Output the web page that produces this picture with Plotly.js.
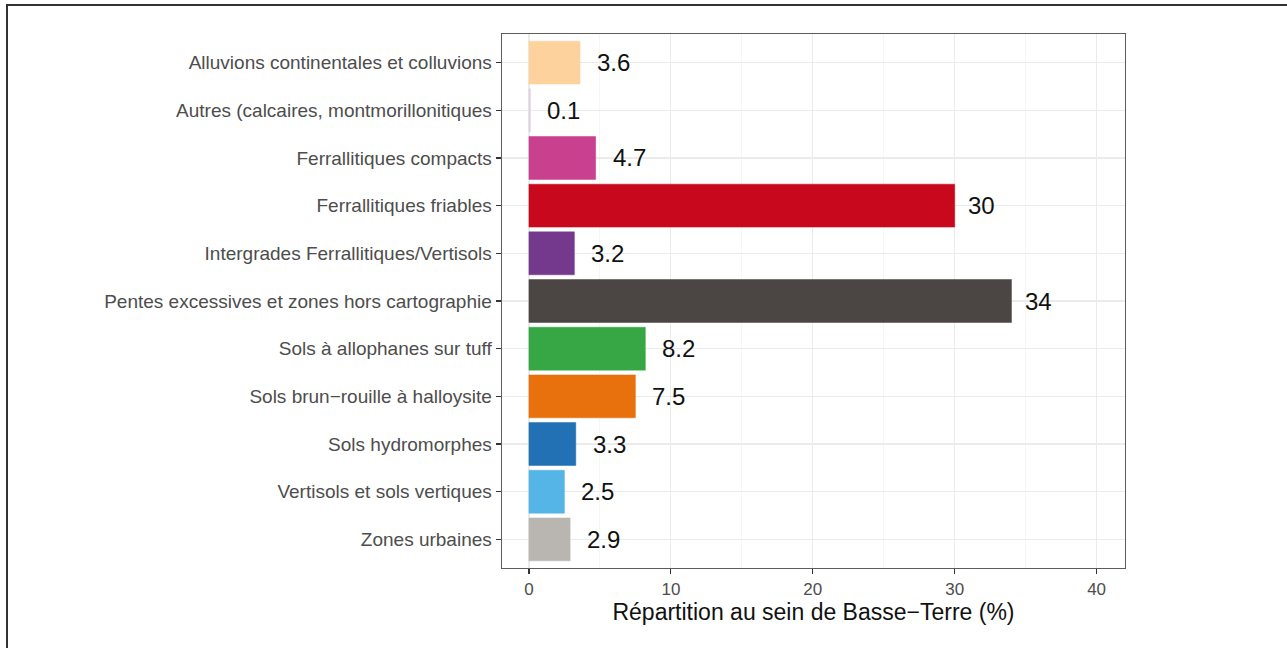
<!DOCTYPE html>
<html>
<head>
<meta charset="utf-8">
<script src="https://cdn.plot.ly/plotly-3.0.1.min.js"></script>
<style>
  html, body { margin: 0; padding: 0; background: #fff; }
  #wrap { position: relative; width: 1287px; height: 648px; }
  #chart { width: 1287px; height: 648px; }
  #frame { position: absolute; left: 6px; top: 4px; right: -4px; bottom: -4px;
           border-left: 2px solid #333; border-top: 2px solid #333; pointer-events: none; }
</style>
</head>
<body>
<div id="wrap"><div id="chart"></div><div id="frame"></div></div>
<script>
const categories = [
  "Alluvions continentales et colluvions",
  "Autres (calcaires, montmorillonitiques",
  "Ferrallitiques compacts",
  "Ferrallitiques friables",
  "Intergrades Ferrallitiques/Vertisols",
  "Pentes excessives et zones hors cartographie",
  "Sols à allophanes sur tuff",
  "Sols brun\u2212rouille à halloysite",
  "Sols hydromorphes",
  "Vertisols et sols vertiques",
  "Zones urbaines"
];
const values = [3.6, 0.1, 4.7, 30, 3.2, 34, 8.2, 7.5, 3.3, 2.5, 2.9];
const labels = ["3.6", "0.1", "4.7", "30", "3.2", "34", "8.2", "7.5", "3.3", "2.5", "2.9"];
const colors = ["#FDD29C", "#D9D2DD", "#C9418E", "#C8081D", "#74398D", "#4B4644",
                "#36A744", "#E8700D", "#2271B5", "#55B5E6", "#B9B6B1"];

const labelFont = 24;
const cv = document.createElement("canvas").getContext("2d");
cv.font = labelFont + "px 'Liberation Sans', Arial, sans-serif";

const annotations = values.map((v, i) => {
  const w = cv.measureText(labels[i]).width;
  return {
    x: v, y: categories[i], xref: "x", yref: "y",
    text: labels[i], showarrow: false,
    xanchor: "center", yanchor: "middle", xshift: w,
    font: { family: "Liberation Sans, Arial, sans-serif", size: labelFont, color: "#111" }
  };
});

const trace = {
  type: "bar", orientation: "h",
  x: values, y: categories,
  width: 0.9,
  marker: { color: colors, line: { color: colors, width: 0.5 } },
  hoverinfo: "x+y"
};

const layout = {
  width: 1287, height: 648,
  margin: { l: 502, r: 162, t: 34, b: 80, pad: 0 },
  paper_bgcolor: "#fff", plot_bgcolor: "#fff",
  showlegend: false,
  font: { family: "Liberation Sans, Arial, sans-serif" },
  bargap: 0.1,
  xaxis: {
    range: [-1.9, 42], tickvals: [0, 10, 20, 30, 40],
    ticks: "outside", ticklen: 5, tickwidth: 1.2, tickcolor: "#333",
    tickfont: { size: 17, color: "#4D4D4D" },
    showgrid: true, gridcolor: "#EBEBEB", gridwidth: 1.2,
    minor: { tickvals: [5, 15, 25, 35], showgrid: true, gridcolor: "#F4F4F4", gridwidth: 0.8 },
    zeroline: false,
    showline: true, mirror: true, linecolor: "#5C5C5C", linewidth: 1.4,
    title: { text: "Répartition au sein de Basse\u2212Terre (%)", standoff: 6,
             font: { size: 23, color: "#111" } }
  },
  yaxis: {
    type: "category", range: [10.6, -0.6],
    categoryorder: "array", categoryarray: categories,
    ticks: "outside", ticklen: 5, tickwidth: 1.2, tickcolor: "#333",
    tickfont: { size: 19, color: "#4D4D4D" },
    showgrid: true, gridcolor: "#EBEBEB", gridwidth: 1.2,
    zeroline: false,
    showline: true, mirror: true, linecolor: "#5C5C5C", linewidth: 1.4
  },
  annotations: annotations
};

Plotly.newPlot("chart", [trace], layout, { displayModeBar: false, staticPlot: true });
</script>
</body>
</html>
